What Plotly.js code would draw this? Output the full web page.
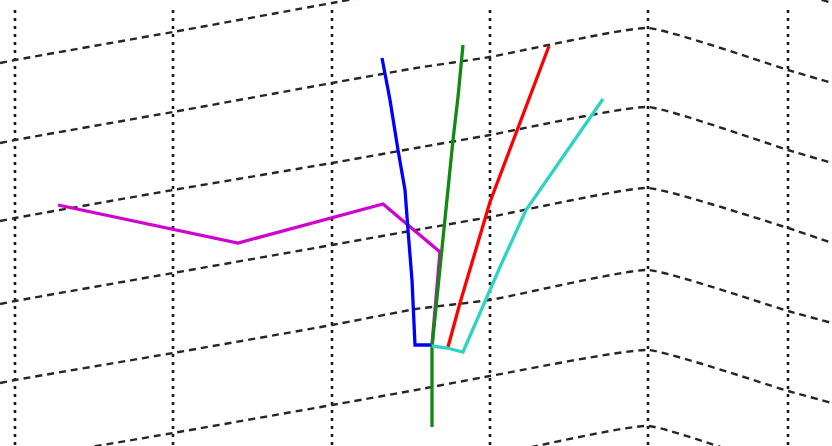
<!DOCTYPE html>
<html>
<head>
<meta charset="utf-8">
<script src="https://cdn.plot.ly/plotly-3.0.1.min.js"></script>
<style>html,body{margin:0;padding:0;background:#fff;}#chart{width:832px;height:446px;}</style>
</head>
<body>
<div id="chart"></div>
<script>
// Projected grid (screen-plane coordinates)
const gridColX = [15, 173, 332, 490, 648, 788];
const gridColTop = 10;
const gridColBottom = 446;

const gridRowX = [0, 15, 173, 332, 416, 490, 648, 788, 832];
const gridRowA = [63, 60, 32, 3, -12, -25, -52, -10, 3];
const gridRowB = [143, 140, 112, 83, 68, 57, 28, 70, 83];
const gridRowC = [221, 218, 190, 163, 148, 135, 107, 150, 163];
const gridRowD = [304, 301, 273, 245, 230, 217, 188, 228, 243];
const gridRowE = [383, 380, 353, 325, 309, 300, 270, 311, 323];
const gridRowF = [463, 460, 433, 405, 390, 376, 350, 391, 403];
const gridRowG = [545, 541, 513, 485, 470, 456, 426, 470, 483];

// Data series
const blueX = [382, 390, 398, 405, 408, 412, 415, 432];
const blueY = [58, 100, 150, 190, 230, 280, 345, 345];
const greenX = [463, 458, 453, 448, 442, 432, 432];
const greenY = [45, 97, 140, 190, 252, 347, 427];
const redX = [549, 517, 490, 460, 448];
const redY = [46, 130, 202, 303, 347];
const cyanX = [432, 447, 463, 500, 526, 603];
const cyanY = [346, 348, 352, 267, 210, 99];
const magentaX = [58, 238, 383, 440, 432];
const magentaY = [205, 243, 204, 252, 345];

const gridColor = '#1a1a1a';
const traces = [];
gridColX.forEach(function (x) {
  traces.push({x: [x, x], y: [gridColTop, gridColBottom], mode: 'lines', hoverinfo: 'skip',
    line: {color: gridColor, width: 2.6, dash: '3px,5px'}});
});
[gridRowA, gridRowB, gridRowC, gridRowD, gridRowE, gridRowF, gridRowG].forEach(function (row) {
  traces.push({x: gridRowX, y: row, mode: 'lines', hoverinfo: 'skip',
    line: {color: '#262626', width: 2.4, dash: '7px,5px', shape: 'spline', smoothing: 0.4}});
});
function series(x, y, c) {
  return {x: x, y: y, mode: 'lines', line: {color: c, width: 3.3}};
}
traces.push(series(magentaX, magentaY, '#d000d0'));
traces.push(series(blueX, blueY, '#0000ff'));
traces.push(series(greenX, greenY, '#118a11'));
traces.push(series(redX, redY, '#ff0000'));
traces.push(series(cyanX, cyanY, '#2ed3c3'));

const layout = {
  width: 832, height: 446,
  margin: {l: 0, r: 0, t: 0, b: 0},
  paper_bgcolor: '#ffffff', plot_bgcolor: '#ffffff',
  showlegend: false,
  xaxis: {range: [0, 832], visible: false, fixedrange: true},
  yaxis: {range: [446, 0], visible: false, fixedrange: true}
};
Plotly.newPlot('chart', traces, layout, {staticPlot: true, displayModeBar: false});
</script>
</body>
</html>
